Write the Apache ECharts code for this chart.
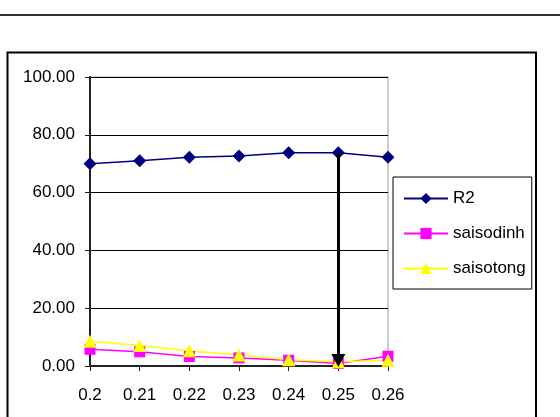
<!DOCTYPE html>
<html>
<head>
<meta charset="utf-8">
<script src="https://cdn.jsdelivr.net/npm/echarts@6/dist/echarts.min.js"></script>
<style>html,body{margin:0;padding:0;background:#fff}#c{width:560px;height:417px}</style>
</head>
<body>
<div id="c"></div>
<script>
const categories = ['0.2', '0.21', '0.22', '0.23', '0.24', '0.25', '0.26'];
const r2 = [70.0, 71.0, 72.2, 72.7, 73.8, 73.8, 72.2];
const saisodinh = [5.8, 4.9, 3.3, 2.8, 2.0, 0.9, 3.4];
const saisotong = [8.6, 7.1, 5.3, 3.8, 2.2, 1.5, 2.0];
const yTicks = { min: 0, max: 100, interval: 20 };
const arrowX = '0.25';
const arrowFrom = r2[5];
const arrowTo = 1.9;

const font = 'Liberation Sans, Arial, sans-serif';
const chart = echarts.init(document.getElementById('c'), null, { renderer: 'canvas' });
chart.setOption({
  animation: false,
  backgroundColor: '#fff',
  textStyle: { fontFamily: font },
  graphic: [
    { type: 'line', shape: { x1: 0, y1: 15, x2: 560, y2: 15 }, style: { stroke: '#333', lineWidth: 2 }, z: 0 },
    { type: 'rect', shape: { x: 7.5, y: 52.5, width: 528.5, height: 380 }, style: { fill: 'none', stroke: '#000', lineWidth: 2 }, z: 0 }
  ],
  grid: { left: 90, right: 172, top: 77, bottom: 51, show: true, borderColor: '#999', borderWidth: 1, backgroundColor: 'transparent' },
  legend: {
    orient: 'vertical',
    left: 393, top: 177,
    width: 139,
    padding: [13, 6, 12, 10],
    itemGap: 18,
    itemWidth: 44, itemHeight: 14,
    borderColor: '#000', borderWidth: 1,
    textStyle: { fontFamily: font, fontSize: 17, color: '#000' },
    data: ['R2', 'saisodinh', 'saisotong']
  },
  xAxis: {
    type: 'category',
    data: categories,
    boundaryGap: false,
    axisLine: { lineStyle: { color: '#222', width: 2 } },
    axisTick: { show: true, length: 5, lineStyle: { color: '#222', width: 1 } },
    axisLabel: { color: '#000', fontSize: 17, fontFamily: font, margin: 21 },
    splitLine: { show: false }
  },
  yAxis: {
    type: 'value',
    min: yTicks.min, max: yTicks.max, interval: yTicks.interval,
    axisLine: { show: true, lineStyle: { color: '#222', width: 2 } },
    axisTick: { show: true, length: 5, lineStyle: { color: '#222', width: 1 } },
    axisLabel: { color: '#000', fontSize: 17, fontFamily: font, margin: 15, formatter: v => v.toFixed(2) },
    splitLine: { show: true, lineStyle: { color: '#000', width: 1 } }
  },
  series: [
    { name: 'R2', type: 'line', data: r2, symbol: 'diamond', symbolSize: 13,
      itemStyle: { color: '#000080' }, lineStyle: { color: '#000080', width: 1.5 } },
    { name: 'saisodinh', type: 'line', data: saisodinh, symbol: 'rect', symbolSize: 11,
      itemStyle: { color: '#FF00FF' }, lineStyle: { color: '#FF00FF', width: 1.5 } },
    { name: 'saisotong', type: 'line', data: saisotong, symbol: 'triangle', symbolSize: 13,
      itemStyle: { color: '#FFFF00' }, lineStyle: { color: '#FFFF00', width: 1.5 },
      markLine: {
        silent: true,
        symbol: ['none', 'triangle'],
        symbolSize: [14, 13],
        label: { show: false },
        lineStyle: { color: '#000', width: 3, type: 'solid' },
        data: [[{ coord: [arrowX, arrowFrom] }, { coord: [arrowX, arrowTo] }]]
      }
    }
  ]
});
</script>
</body>
</html>
